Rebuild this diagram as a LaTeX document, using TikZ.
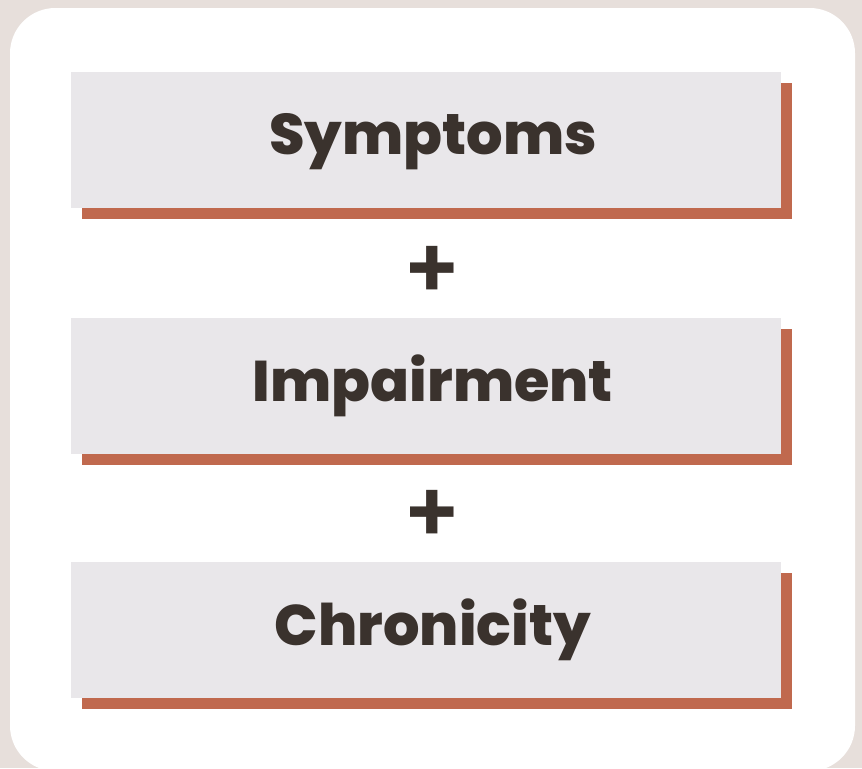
\documentclass[tikz,border=0pt]{standalone}
\usepackage{fontspec}
\setmainfont{Poppins}[BoldFont=* ExtraBold]
\newfontfamily\plusfont{Poppins SemiBold}
\usetikzlibrary{positioning,shadows}
\definecolor{pagebg}{HTML}{E7DFDB}
\definecolor{boxgray}{HTML}{E9E7EA}
\definecolor{rust}{HTML}{C0694E}
\definecolor{ink}{HTML}{3A322D}
\tikzset{
  critbox/.style={rectangle, fill=boxgray, minimum width=532.5pt, minimum height=102pt, inner sep=0pt,
    drop shadow={shadow xshift=8.25pt, shadow yshift=-8.25pt, fill=rust, opacity=1}},
  crittext/.style={font=\fontsize{43}{50}\selectfont\bfseries, text=ink, inner sep=0pt},
  plussign/.style={font=\plusfont\fontsize{64}{64}\selectfont, text=ink, inner sep=0pt}
}
\begin{document}
\begin{tikzpicture}[x=0.75pt,y=-0.75pt]
  \useasboundingbox (0,0) rectangle (862,768);
  \clip (0,0) rectangle (862,768);
  \fill[pagebg] (0,0) rectangle (862,768);
  \fill[white, rounded corners=34pt] (10,8) rectangle (855,771);
  \node[critbox] (sympbox) at (426,140) {};
  \node[critbox] (impbox) at (426,386) {};
  \node[critbox] (chronbox) at (426,629.5) {};
  \node[crittext] (symp) at ([xshift=5.25pt,yshift=-1pt]sympbox.center) {Symptoms};
  \node[crittext] (imp) at ([xshift=5.25pt]impbox.center) {Impairment};
  \node[crittext] (chron) at ([xshift=5.25pt]chronbox.center) {Chronicity};
  \node[plussign] (plusa) at (432.5,272.5) {+};
  \node[plussign] (plusb) at (432.5,516) {+};
\end{tikzpicture}
\end{document}
